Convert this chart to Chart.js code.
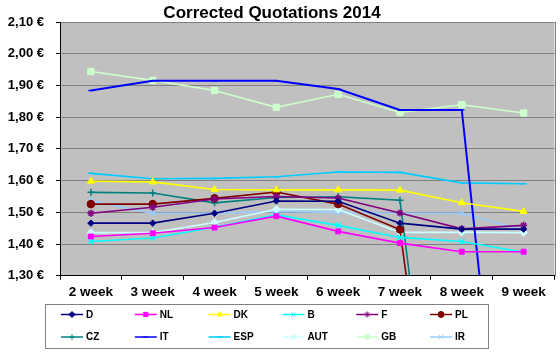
<!DOCTYPE html>
<html>
<head>
<meta charset="utf-8">
<script src="https://cdn.jsdelivr.net/npm/chart.js@4.4.1/dist/chart.umd.min.js"></script>
<style>
html,body{margin:0;padding:0;background:#fff;}
#wrap{width:560px;height:352px;position:relative;}
</style>
</head>
<body>
<div id="wrap"><canvas id="c" width="560" height="352"></canvas></div>
<script>
const chartTitle = 'Corrected Quotations 2014';
const weeks = ['2 week','3 week','4 week','5 week','6 week','7 week','8 week','9 week'];
const seriesNames = ['D','NL','DK','B','F','PL','CZ','IT','ESP','AUT','GB','IR'];
const D   = [1.466,1.466,1.497,1.536,1.535,1.466,1.447,1.447];
const NL  = [1.424,1.434,1.452,1.488,1.440,1.403,1.376,1.376];
const DK  = [1.598,1.596,1.572,1.571,1.571,1.570,1.530,1.503];
const B   = [1.408,1.419,1.453,1.492,1.459,1.421,1.408,1.374];
const F   = [1.497,1.516,1.542,1.550,1.545,1.498,1.448,1.459];
const PL  = [1.526,1.526,1.544,1.564,1.526,1.446,0,0];
const CZ  = [1.563,1.561,1.530,1.547,1.549,1.538,0,0];
const IT  = [1.884,1.915,1.915,1.915,1.889,1.823,1.823,0];
const ESP = [1.623,1.606,1.607,1.612,1.627,1.626,1.593,1.590];
const AUT = [1.436,1.436,1.468,1.510,1.509,1.437,1.437,1.436];
const GB  = [1.944,1.916,1.884,1.831,1.872,1.815,1.839,1.813];
const IR  = [1.537,1.497,1.497,1.503,1.500,1.497,1.497,1.444];
const yMin = 1.3, yMax = 2.1, yStep = 0.1;

const values = [D,NL,DK,B,F,PL,CZ,IT,ESP,AUT,GB,IR];
const colors = ['#000080','#ff00ff','#ffff00','#00ffff','#800080','#800000','#008080','#0000ff','#00ccff','#ccffff','#ccffcc','#99ccff'];
const styles = ['rectRot','rect','triangle','crossRot','star','circle','cross','line','line','rectRot','rect','crossRot'];
const radii  = [3.2,3.5,4,3.5,3.5,3.8,3.5,2.5,3,3.8,4.5,3.5];

const FONT = "'Liberation Sans', Arial, sans-serif";

const datasets = seriesNames.map((n,i)=>({
  label:n,
  data:values[i],
  borderColor:colors[i],
  backgroundColor:colors[i],
  pointStyle:styles[i],
  pointRadius:radii[i],
  pointBorderWidth:(styles[i]==='crossRot'||styles[i]==='cross'||styles[i]==='star'||styles[i]==='line')?1.5:1,
  borderWidth:(n==='IT')?2:1.6,
  tension:0,
  spanGaps:false
}));

const bgPlugin = {
  id:'bg',
  beforeDraw(chart){
    const {ctx, chartArea:a} = chart;
    ctx.save();
    ctx.fillStyle = '#c0c0c0';
    ctx.fillRect(a.left, a.top, a.right-a.left, a.bottom-a.top);
    ctx.restore();
  },
  afterDraw(chart){
    const {ctx, chartArea:a} = chart;
    ctx.save();
    ctx.strokeStyle = '#808080';
    ctx.lineWidth = 1;
    ctx.beginPath();
    ctx.moveTo(Math.round(a.right)+0.5, a.top);
    ctx.lineTo(Math.round(a.right)+0.5, a.bottom);
    ctx.stroke();
    // title
    ctx.fillStyle = '#000';
    ctx.font = 'bold 17px ' + FONT;
    ctx.textAlign = 'center';
    ctx.textBaseline = 'alphabetic';
    ctx.fillText(chartTitle, 272, 17.5);
    // legend
    const bx = 45.5, by = 304.5, bw = 443, bh = 44;
    ctx.fillStyle = '#fff';
    ctx.fillRect(bx, by, bw, bh);
    ctx.strokeStyle = '#808080';
    ctx.strokeRect(bx, by, bw, bh);
    ctx.font = 'bold 10px ' + FONT;
    ctx.textAlign = 'left';
    chart.data.datasets.forEach((ds,i)=>{
      const col = i % 6, row = Math.floor(i/6);
      const x = 61 + col*73.8, y = 314.5 + row*22.5;
      ctx.strokeStyle = ds.borderColor;
      ctx.lineWidth = 1.5;
      ctx.beginPath();
      ctx.moveTo(x, y); ctx.lineTo(x+22, y);
      ctx.stroke();
      ctx.fillStyle = ds.backgroundColor;
      ctx.lineWidth = 1;
      Chart.helpers.drawPoint(ctx, {pointStyle: ds.pointStyle, radius: Math.min(ds.pointRadius,3), borderWidth:1, rotation:0}, x+11, y);
      ctx.fillStyle = '#000';
      ctx.textBaseline = 'middle';
      ctx.fillText(ds.label, x+25, y+0.5);
    });
    ctx.restore();
  }
};

new Chart(document.getElementById('c'), {
  type:'line',
  data:{labels:weeks, datasets},
  options:{
    responsive:false,
    animation:false,
    devicePixelRatio:1,
    layout:{padding:{top:22,left:0,right:3,bottom:48}},
    plugins:{legend:{display:false}, title:{display:false}, tooltip:{enabled:false}},
    scales:{
      x:{
        offset:true,
        grid:{display:true, offset:true, drawOnChartArea:false, drawTicks:true, tickLength:4, tickColor:'#000'},
        border:{display:true, color:'#000', width:1},
        ticks:{color:'#000', font:{family:FONT, size:13.5, weight:'bold'}, padding:4, maxRotation:0}
      },
      y:{
        min:yMin, max:yMax,
        afterFit:(s)=>{ s.width = 60; },
        grid:{color:'#808080', lineWidth:1, drawTicks:true, tickLength:4, tickColor:'#000'},
        border:{display:true, color:'#000', width:1},
        ticks:{stepSize:yStep, color:'#000', font:{family:FONT, size:13, weight:'bold'}, padding:12,
          callback:(v)=>v.toFixed(2).replace('.',',')+' €'}
      }
    }
  },
  plugins:[bgPlugin]
});
</script>
</body>
</html>
